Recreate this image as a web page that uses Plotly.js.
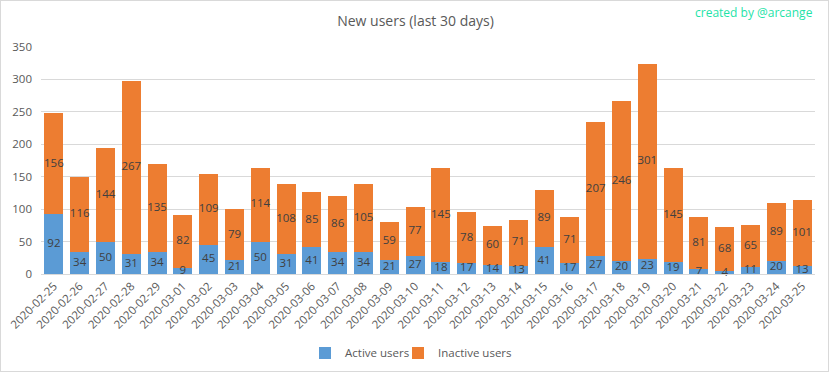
<!DOCTYPE html>
<html>
<head>
<meta charset="utf-8">
<script src="https://cdn.plot.ly/plotly-3.0.1.min.js"></script>
<style>
html,body{margin:0;padding:0;background:#fff;}
#chart{width:829px;height:372px;box-sizing:border-box;border:1px solid #d9d9d9;}
</style>
</head>
<body>
<div id="chart"></div>
<script>
const dates = ["2020-02-25","2020-02-26","2020-02-27","2020-02-28","2020-02-29","2020-03-01","2020-03-02","2020-03-03","2020-03-04","2020-03-05","2020-03-06","2020-03-07","2020-03-08","2020-03-09","2020-03-10","2020-03-11","2020-03-12","2020-03-13","2020-03-14","2020-03-15","2020-03-16","2020-03-17","2020-03-18","2020-03-19","2020-03-20","2020-03-21","2020-03-22","2020-03-23","2020-03-24","2020-03-25"];
const activeUsers = [92,34,50,31,34,9,45,21,50,31,41,34,34,21,27,18,17,14,13,41,17,27,20,23,19,7,4,11,20,13];
const inactiveUsers = [156,116,144,267,135,82,109,79,114,108,85,86,105,59,77,145,78,60,71,89,71,207,246,301,145,81,68,65,89,101];
const yTicks = [0,50,100,150,200,250,300,350];

const font = "'Open Sans', 'Noto Sans', sans-serif";
const labelFont = {family: font, size: 11.5, color: '#404040'};

// stacked segment mid-points, for centred data labels drawn above the bars
const activeMid = activeUsers.map(v => v / 2);
const inactiveMid = inactiveUsers.map((v, i) => activeUsers[i] + v / 2);

const traces = [
  {type: 'bar', name: 'Active users', x: dates, y: activeUsers, marker: {color: '#5B9BD5'}, hoverinfo: 'none', legend: 'legend'},
  {type: 'bar', name: 'Inactive users', x: dates, y: inactiveUsers, marker: {color: '#ED7D31'}, hoverinfo: 'none', legend: 'legend2'},
  {type: 'scatter', mode: 'text', x: dates, y: activeMid, text: activeUsers.map(String), textposition: 'middle center',
   textfont: labelFont, cliponaxis: false, showlegend: false, hoverinfo: 'none'},
  {type: 'scatter', mode: 'text', x: dates, y: inactiveMid, text: inactiveUsers.map(String), textposition: 'middle center',
   textfont: labelFont, cliponaxis: false, showlegend: false, hoverinfo: 'none'}
];
const legendCommon = {orientation: 'h', xref: 'container', yref: 'container', xanchor: 'left', y: 0.054, yanchor: 'middle',
  font: {family: font, size: 11.5, color: '#595959'}, itemwidth: 30, bgcolor: 'rgba(0,0,0,0)'};
const layout = {
  width: 829, height: 372,
  margin: {l: 40, r: 15, t: 46, b: 99},
  paper_bgcolor: 'rgba(0,0,0,0)',
  plot_bgcolor: '#fff',
  barmode: 'stack',
  bargap: 0.27,
  font: {family: font, color: '#595959', size: 11.5},
  title: {text: 'New users (last 30 days)', x: 0.5, xanchor: 'center', yref: 'container', y: 0.945, yanchor: 'middle', font: {family: font, size: 14, color: '#595959'}},
  xaxis: {
    type: 'category', range: [-0.5, dates.length - 0.5], tickangle: -45, showgrid: false, showline: true, linecolor: '#d9d9d9', linewidth: 1,
    ticks: '', tickfont: {family: font, size: 11.5, color: '#595959'}, automargin: false
  },
  yaxis: {
    range: [0, 350], tickvals: yTicks, showgrid: true, gridcolor: '#d9d9d9', gridwidth: 1,
    zeroline: false, showline: false, ticks: '', ticklen: 0, ticklabelstandoff: 8,
    tickfont: {family: font, size: 11.5, color: '#595959'}, automargin: false
  },
  showlegend: true,
  legend: Object.assign({}, legendCommon, {x: 304 / 829}),
  legend2: Object.assign({}, legendCommon, {x: 397 / 829}),
  annotations: [{
    text: 'created by @arcange', xref: 'paper', yref: 'paper', x: 1, xanchor: 'right', y: 1.15, yanchor: 'middle',
    showarrow: false, font: {family: font, size: 12, color: '#1ee3a8'}
  }]
};
Plotly.newPlot('chart', traces, layout, {staticPlot: true, displayModeBar: false});
</script>
</body>
</html>
